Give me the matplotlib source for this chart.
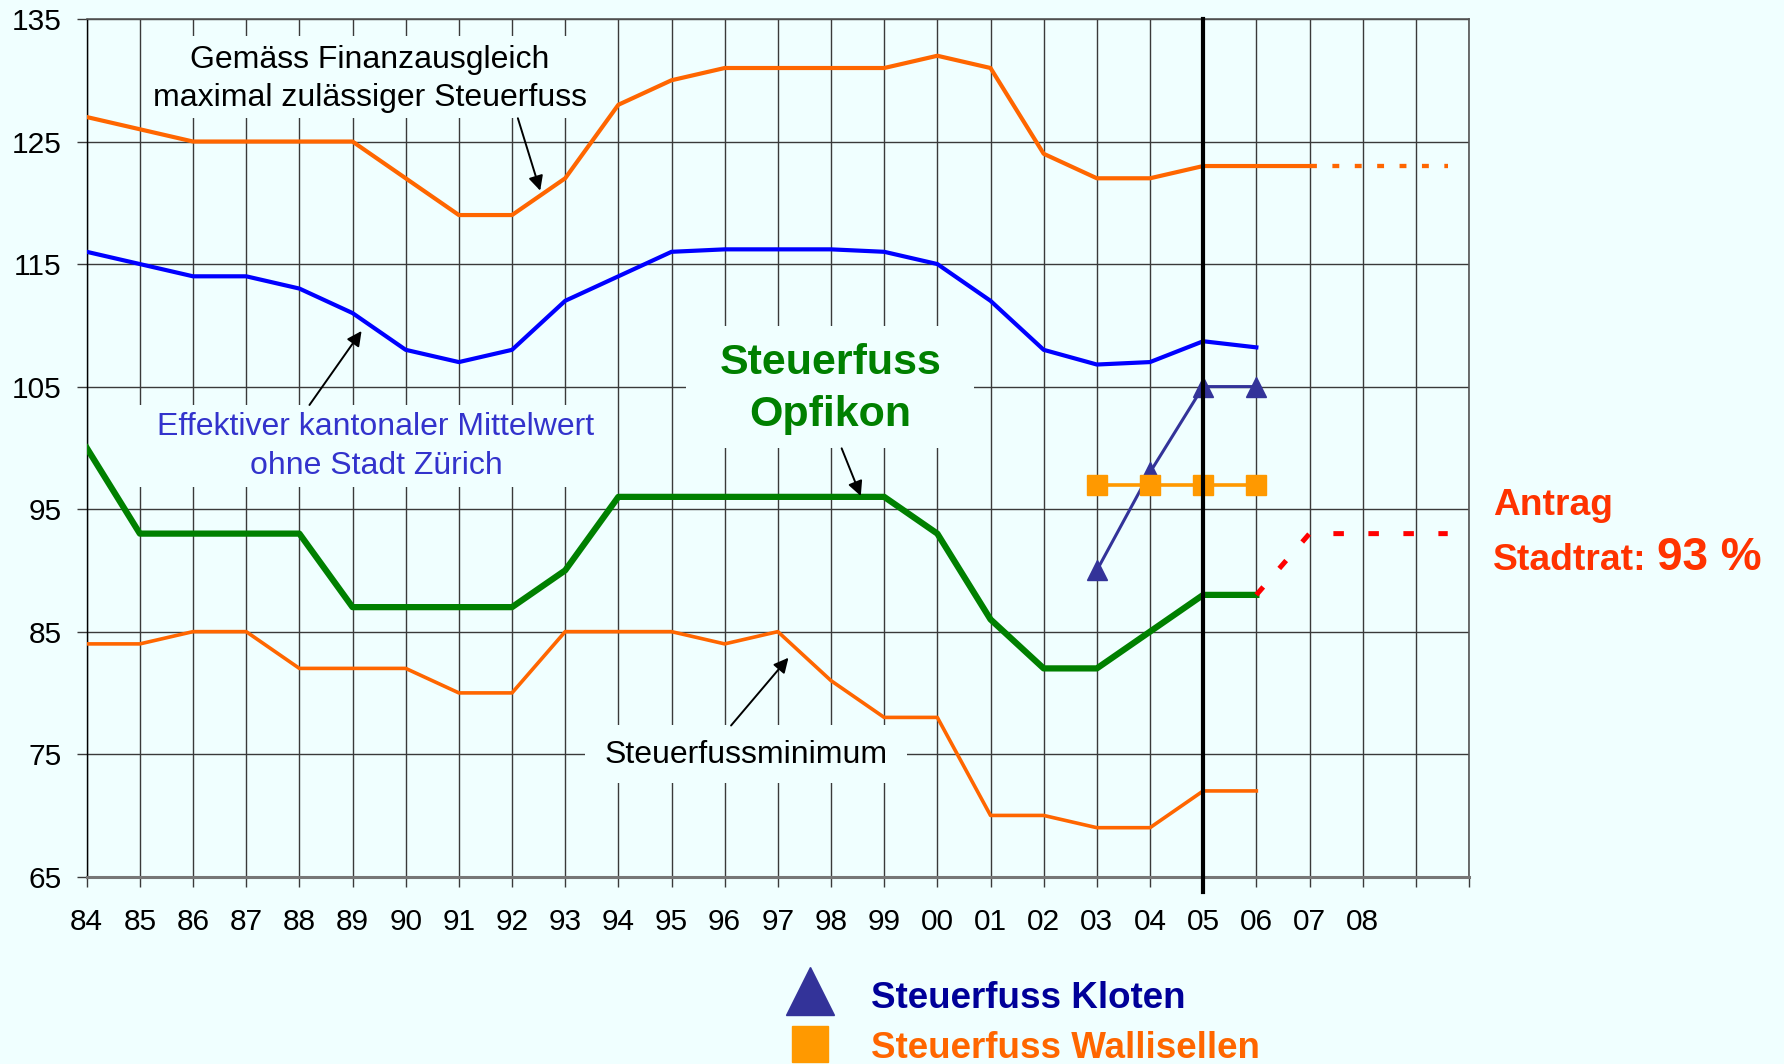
import matplotlib
matplotlib.use("Agg")
import matplotlib.pyplot as plt
from matplotlib.patches import Rectangle

plt.rcParams['font.family'] = ['Liberation Sans', 'DejaVu Sans']

# Jahre 1984..2006 (fortlaufend gezählt, 100 = 2000)
years = list(range(84, 107))
max_years = list(range(84, 108))
max_fa = [127, 126, 125, 125, 125, 125, 122, 119, 119, 122, 128, 130,
          131, 131, 131, 131, 132, 131, 124, 122, 122, 123, 123, 123]
mittelwert = [116, 115, 114, 114, 113, 111, 108, 107, 108, 112, 114, 116,
              116.2, 116.2, 116.2, 116, 115, 112, 108, 106.8, 107, 108.7, 108.2]
opfikon = [100, 93, 93, 93, 93, 87, 87, 87, 87, 90, 96, 96,
           96, 96, 96, 96, 93, 86, 82, 82, 85, 88, 88]
minimum = [84, 84, 85, 85, 82, 82, 82, 80, 80, 85, 85, 85,
           84, 85, 81, 78, 78, 70, 70, 69, 69, 72, 72]

proj_max_years = [107, 109.6]
proj_max = [123, 123]
antrag_years = [106, 107, 109.6]
antrag = [88, 93, 93]

kloten_years = [103, 104, 105, 106]
kloten = [90, 98, 105, 105]
wallisellen_years = [103, 104, 105, 106]
wallisellen = [97, 97, 97, 97]

x_ticks = list(range(84, 111))
x_labels = [f"{y % 100:02d}" if y <= 108 else "" for y in x_ticks]
y_ticks = list(range(65, 136, 10))

bg = '#F0FFFF'
grid_c = '#3a3a3a'

fig = plt.figure(figsize=(17.84, 10.64), dpi=100, facecolor=bg)
W, H = 1784, 1064
ax = fig.add_axes([86.7 / W, 1 - 876.7 / H, (1469 - 86.7) / W, (876.7 - 19) / H])
ax.set_facecolor(bg)
ax.set_xlim(84, 110)
ax.set_ylim(65, 135)
ax.set_xticks(x_ticks)
ax.set_xticklabels(x_labels)
ax.set_yticks(y_ticks)
ax.set_axisbelow(True)
ax.grid(True, color=grid_c, lw=1.0)
ax.tick_params(axis='both', direction='out', length=7.2, width=1.0,
               color=grid_c, labelsize=21.5)
ax.tick_params(axis='x', pad=15.5)
ax.tick_params(axis='y', pad=11)
for side in ['top', 'right']:
    ax.spines[side].set_color('#555555')
    ax.spines[side].set_linewidth(1.2)
ax.spines['left'].set_color('black')
ax.spines['left'].set_linewidth(1.0)
ax.spines['bottom'].set_color('#777777')
ax.spines['bottom'].set_linewidth(2.2)

# Textfelder verdecken das Gitter
for (x0, x1, y0, y1) in [(85.1, 93.56, 126.9, 133.64),
                         (84.72, 93.75, 96.83, 103.5),
                         (95.27, 100.69, 100.0, 109.95),
                         (93.37, 99.43, 72.65, 77.38)]:
    ax.add_patch(Rectangle((x0, y0), x1 - x0, y1 - y0, facecolor=bg,
                           edgecolor='none', zorder=1))

ax.plot(max_years, max_fa, color='#FF6600', lw=3.0, zorder=3)
ax.plot(proj_max_years, proj_max, color='#FF6600', lw=3.1,
        dashes=(1.6, 3.6), zorder=3)
ax.plot(years, mittelwert, color='#0000FF', lw=3.0, zorder=3)
ax.plot(years, opfikon, color='#008000', lw=4.5, zorder=3)
ax.plot(years, minimum, color='#FF6600', lw=2.6, zorder=3)
ax.plot(antrag_years, antrag, color='#FF0000', lw=3.6,
        dashes=(2.1, 4.9), zorder=3)

ax.plot(kloten_years, kloten, color='#333399', lw=2.2, marker='^',
        ms=15, zorder=4)
ax.plot(wallisellen_years, wallisellen, color='#FF9900', lw=2.6, marker='s',
        ms=14, zorder=5)

# aktuelles Jahr
ax.axvline(105, ymin=-0.018, ymax=1, color='black', lw=3.0, zorder=6,
           clip_on=False)

ax.text(89.32, 130.1, "Gemäss Finanzausgleich\nmaximal zulässiger Steuerfuss",
        ha='center', va='center', fontsize=23, color='black',
        linespacing=1.38, zorder=7)
ax.text(89.44, 100.1, "Effektiver kantonaler Mittelwert\nohne Stadt Zürich",
        ha='center', va='center', fontsize=23, color='#3333CC',
        linespacing=1.38, zorder=7)
ax.text(97.99, 104.8, "Steuerfuss\nOpfikon", ha='center', va='center',
        fontsize=31, fontweight='bold', color='#008000',
        linespacing=1.4, zorder=7)
ax.text(96.41, 74.93, "Steuerfussminimum", ha='center', va='center',
        fontsize=23, color='black', zorder=7)

arrow = dict(arrowstyle='-|>', color='black', lw=1.4, mutation_scale=22,
             shrinkA=0, shrinkB=0)
ax.annotate('', xy=(92.53, 120.99), xytext=(92.11, 126.9), arrowprops=arrow, zorder=7)
ax.annotate('', xy=(89.17, 109.54), xytext=(88.19, 103.5), arrowprops=arrow, zorder=7)
ax.annotate('', xy=(98.56, 96.07), xytext=(98.20, 99.96), arrowprops=arrow, zorder=7)
ax.annotate('', xy=(97.2, 82.87), xytext=(96.12, 77.34), arrowprops=arrow, zorder=7)

# Antrag Stadtrat
red = '#FF3300'
fig.text(1492.7 / W, 1 - 515 / H, "Antrag", color=red, fontsize=26.8,
         fontweight='bold', va='baseline', ha='left')
fig.text(1492.7 / W, 1 - 570 / H, "Stadtrat:", color=red, fontsize=26.8,
         fontweight='bold', va='baseline', ha='left')
fig.text(1657 / W, 1 - 570 / H, "93 %", color=red, fontsize=33,
         fontweight='bold', va='baseline', ha='left')

# Legende
fig.lines.append(plt.Line2D([810 / W], [1 - 991 / H], transform=fig.transFigure,
                            marker='^', ms=34, color='#333399', lw=0))
fig.lines.append(plt.Line2D([809.5 / W], [1 - 1044 / H], transform=fig.transFigure,
                            marker='s', ms=26.5, color='#FF9900', lw=0))
fig.text(871 / W, 1 - 1008.3 / H, "Steuerfuss Kloten", color='#000099',
         fontsize=26.5, fontweight='bold', va='baseline', ha='left')
fig.text(871 / W, 1 - 1058.4 / H, "Steuerfuss Wallisellen", color='#FF6600',
         fontsize=26.5, fontweight='bold', va='baseline', ha='left')

fig.savefig('out.png', dpi=100, facecolor=bg)
